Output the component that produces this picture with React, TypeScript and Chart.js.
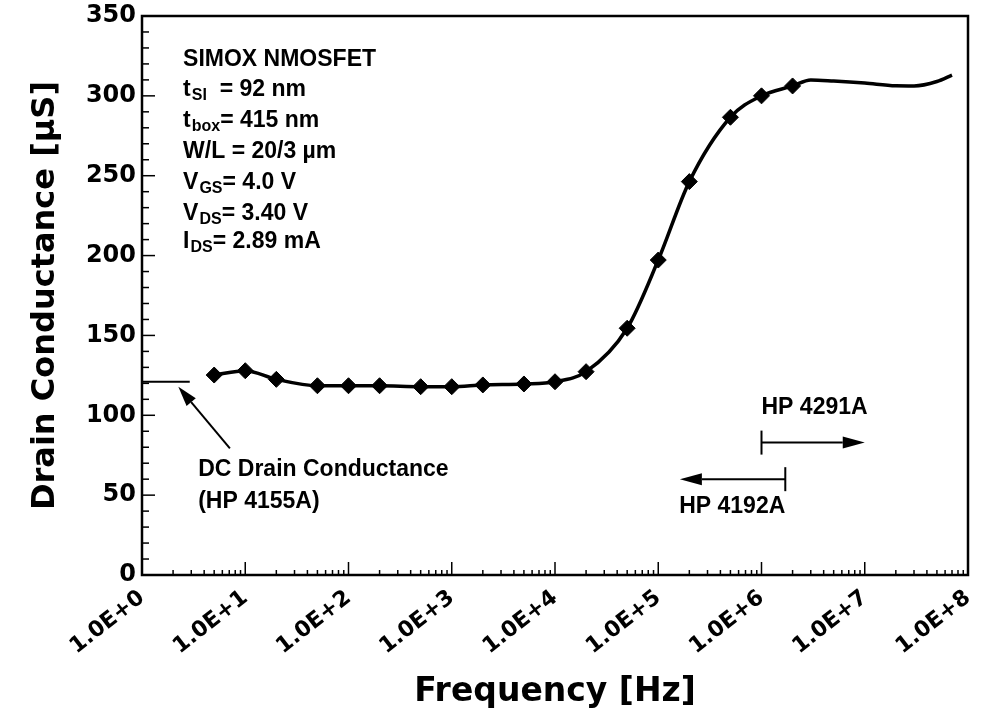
import React, { useEffect, useRef } from "react";
import { Chart, registerables } from "chart.js";

Chart.register(...registerables);

// ---- Data ----
const measuredFreq = [5, 10, 20, 50, 100, 200, 500, 1e3, 2e3, 5e3, 1e4, 2e4, 5e4, 1e5, 2e5, 5e5, 1e6, 2e6];
const measuredG = [125.2, 127.9, 122.5, 118.5, 118.5, 118.5, 117.9, 117.9, 119, 119.6, 121, 127.3, 154.5, 197.2, 246.3, 286.6, 300, 306.2];
const sweepFreq = [3e6, 5e6, 1e7, 2e7, 3e7, 5e7, 7e7];
const sweepG = [310, 309.3, 308, 306.3, 306.2, 309, 313];
const dcFreq = [1, 2.9];
const dcG = [121, 121];

const xTickValues = [1, 10, 100, 1e3, 1e4, 1e5, 1e6, 1e7, 1e8];
const xTickLabels = ["1.0E+0", "1.0E+1", "1.0E+2", "1.0E+3", "1.0E+4", "1.0E+5", "1.0E+6", "1.0E+7", "1.0E+8"];
const yMin = 0;
const yMax = 350;
const yMajorStep = 50;
const yMinorStep = 10;

// info block
const infoMain = ["SIMOX NMOSFET", "t", "t", "W/L = 20/3 µm", "V", "V", "I"];
const infoSub = ["", "SI", "box", "", "GS", "DS", "DS"];
const infoRest = ["", "  = 92 nm", "= 415 nm", "", "= 4.0 V", "= 3.40 V", "= 2.89 mA"];
const infoFreq = 2.5;
const infoG = [324, 305, 285.5, 266, 246.5, 227, 209.5];

// DC annotation
const dcLabel = ["DC Drain Conductance", "(HP 4155A)"];
const dcLabelFreq = 3.5;
const dcLabelG = [65.7, 45.9];
const dcArrowFreq = [7.1, 2.25];
const dcArrowG = [79.3, 117.9];

// Instrument ranges
const hp4291Label = "HP 4291A";
const hp4291Freq = [1e6, 1e7];
const hp4291G = 82.9;
const hp4291LabelG = 104.6;
const hp4192Label = "HP 4192A";
const hp4192Freq = [1.7e6, 1.62e5];
const hp4192G = 60;
const hp4192LabelG = 42.8;

const ANNOT_FONT = "bold 23px 'Liberation Sans', Arial, sans-serif";
const SUB_FONT = "bold 16px 'Liberation Sans', Arial, sans-serif";

function drawArrow(ctx: CanvasRenderingContext2D, x1: number, y1: number, x2: number, y2: number, len: number, hw: number) {
  const ang = Math.atan2(y2 - y1, x2 - x1);
  const bx = x2 - len * Math.cos(ang);
  const by = y2 - len * Math.sin(ang);
  ctx.beginPath();
  ctx.moveTo(x1, y1);
  ctx.lineTo(bx, by);
  ctx.stroke();
  ctx.beginPath();
  ctx.moveTo(x2, y2);
  ctx.lineTo(bx + hw * Math.sin(ang), by - hw * Math.cos(ang));
  ctx.lineTo(bx - hw * Math.sin(ang), by + hw * Math.cos(ang));
  ctx.closePath();
  ctx.fill();
}

const annotPlugin = {
  id: "annot",
  afterDatasetsDraw(chart: any) {
    const { ctx, chartArea: a, scales } = chart;
    const x = scales.x;
    const y = scales.y;
    ctx.save();
    ctx.strokeStyle = "#000";
    ctx.fillStyle = "#000";
    // frame
    ctx.lineWidth = 2.5;
    ctx.strokeRect(a.left, a.top, a.right - a.left, a.bottom - a.top);
    // x ticks (inward)
    ctx.lineWidth = 1.5;
    for (let e = 0; e <= 8; e++) {
      const base = Math.pow(10, e);
      const px = x.getPixelForValue(base);
      ctx.beginPath();
      ctx.moveTo(px, a.bottom);
      ctx.lineTo(px, a.bottom - 13);
      ctx.stroke();
      if (e < 8) {
        for (let m = 2; m <= 9; m++) {
          const mx = x.getPixelForValue(m * base);
          ctx.beginPath();
          ctx.moveTo(mx, a.bottom);
          ctx.lineTo(mx, a.bottom - 5);
          ctx.stroke();
        }
      }
    }
    // y ticks (inward)
    for (let v = yMin; v <= yMax; v += yMinorStep) {
      const py = y.getPixelForValue(v);
      const len = v % yMajorStep === 0 ? 13 : 7;
      ctx.beginPath();
      ctx.moveTo(a.left, py);
      ctx.lineTo(a.left + len, py);
      ctx.stroke();
    }

    // info block
    ctx.textBaseline = "alphabetic";
    ctx.textAlign = "left";
    const ix = x.getPixelForValue(infoFreq);
    for (let i = 0; i < infoMain.length; i++) {
      const base = y.getPixelForValue(infoG[i]) + 8;
      let cx = ix;
      ctx.font = ANNOT_FONT;
      ctx.fillText(infoMain[i], cx, base);
      cx += ctx.measureText(infoMain[i]).width + 1;
      if (infoSub[i]) {
        ctx.font = SUB_FONT;
        ctx.fillText(infoSub[i], cx, base + 4);
        cx += ctx.measureText(infoSub[i]).width;
      }
      if (infoRest[i]) {
        ctx.font = ANNOT_FONT;
        ctx.fillText(infoRest[i], cx, base);
      }
    }

    // DC label and arrow
    ctx.font = ANNOT_FONT;
    ctx.textBaseline = "middle";
    for (let i = 0; i < dcLabel.length; i++) {
      ctx.fillText(dcLabel[i], x.getPixelForValue(dcLabelFreq), y.getPixelForValue(dcLabelG[i]));
    }
    ctx.lineWidth = 2;
    drawArrow(
      ctx,
      x.getPixelForValue(dcArrowFreq[0]), y.getPixelForValue(dcArrowG[0]),
      x.getPixelForValue(dcArrowFreq[1]), y.getPixelForValue(dcArrowG[1]),
      20, 6
    );

    // HP 4291A
    const h1y = y.getPixelForValue(hp4291G);
    const h1x0 = x.getPixelForValue(hp4291Freq[0]);
    const h1x1 = x.getPixelForValue(hp4291Freq[1]);
    ctx.beginPath();
    ctx.moveTo(h1x0, h1y - 12);
    ctx.lineTo(h1x0, h1y + 12);
    ctx.stroke();
    drawArrow(ctx, h1x0, h1y, h1x1, h1y, 22, 6);
    ctx.textAlign = "left";
    ctx.fillText(hp4291Label, h1x0, y.getPixelForValue(hp4291LabelG));

    // HP 4192A
    const h2y = y.getPixelForValue(hp4192G);
    const h2x0 = x.getPixelForValue(hp4192Freq[0]);
    const h2x1 = x.getPixelForValue(hp4192Freq[1]);
    ctx.beginPath();
    ctx.moveTo(h2x0, h2y - 12);
    ctx.lineTo(h2x0, h2y + 12);
    ctx.stroke();
    drawArrow(ctx, h2x0, h2y, h2x1, h2y, 22, 6);
    ctx.textAlign = "right";
    ctx.fillText(hp4192Label, h2x0, y.getPixelForValue(hp4192LabelG));

    ctx.restore();
  },
};

export default function App() {
  const canvasRef = useRef<HTMLCanvasElement | null>(null);

  useEffect(() => {
    if (!canvasRef.current) return;
    const curveData = [
      ...measuredFreq.map((f, i) => ({ x: f, y: measuredG[i] })),
      ...sweepFreq.map((f, i) => ({ x: f, y: sweepG[i] })),
    ];
    const radii = [...measuredFreq.map(() => 8), ...sweepFreq.map(() => 0)];
    const chart = new Chart(canvasRef.current, {
      type: "line",
      data: {
        datasets: [
          {
            label: "Drain conductance",
            data: curveData,
            borderColor: "#000",
            backgroundColor: "#000",
            borderWidth: 3.5,
            pointStyle: "rectRot",
            pointRadius: radii,
            pointBorderWidth: 1,
            cubicInterpolationMode: "monotone",
          },
          {
            label: "DC drain conductance",
            data: dcFreq.map((f, i) => ({ x: f, y: dcG[i] })),
            borderColor: "#000",
            borderWidth: 2,
            pointRadius: 0,
          },
        ],
      },
      options: {
        animation: false,
        responsive: true,
        maintainAspectRatio: false,
        layout: { padding: { top: 16, right: 14, left: 0, bottom: 0 } },
        plugins: { legend: { display: false }, tooltip: { enabled: false } },
        scales: {
          x: {
            type: "logarithmic",
            min: 1,
            max: 1e8,
            grid: { display: false, drawTicks: false },
            border: { display: false },
            afterBuildTicks: (s: any) => {
              s.ticks = xTickValues.map((v) => ({ value: v }));
            },
            afterFit: (s: any) => {
              s.height = 146;
              s.paddingLeft = 0;
              s.paddingRight = 0;
            },
            ticks: {
              autoSkip: false,
              minRotation: 38,
              maxRotation: 38,
              padding: 10,
              color: "#000",
              font: { family: "'DejaVu Sans'", weight: "bold", size: 22 },
              callback: (_v: any, i: number) => xTickLabels[i],
            },
            title: {
              display: true,
              text: "Frequency [Hz]",
              color: "#000",
              font: { family: "'DejaVu Sans'", weight: "bold", size: 33 },
              padding: { top: 0, bottom: 9 },
            },
          },
          y: {
            type: "linear",
            min: yMin,
            max: yMax,
            grid: { display: false, drawTicks: false },
            border: { display: false },
            afterFit: (s: any) => {
              s.width = 142;
              s.paddingTop = 0;
              s.paddingBottom = 0;
            },
            ticks: {
              stepSize: yMajorStep,
              padding: 6,
              color: "#000",
              font: { family: "'DejaVu Sans'", weight: "bold", size: 24 },
            },
            title: {
              display: true,
              text: "Drain Conductance [µS]",
              color: "#000",
              font: { family: "'DejaVu Sans'", weight: "bold", size: 32 },
              padding: { top: 26, bottom: 0 },
            },
          },
        },
      },
      plugins: [annotPlugin],
    } as any);
    return () => chart.destroy();
  }, []);

  return (
    <div style={{ position: "fixed", left: 0, top: 0, width: 982, height: 721, background: "#fff" }}>
      <canvas ref={canvasRef} />
    </div>
  );
}
